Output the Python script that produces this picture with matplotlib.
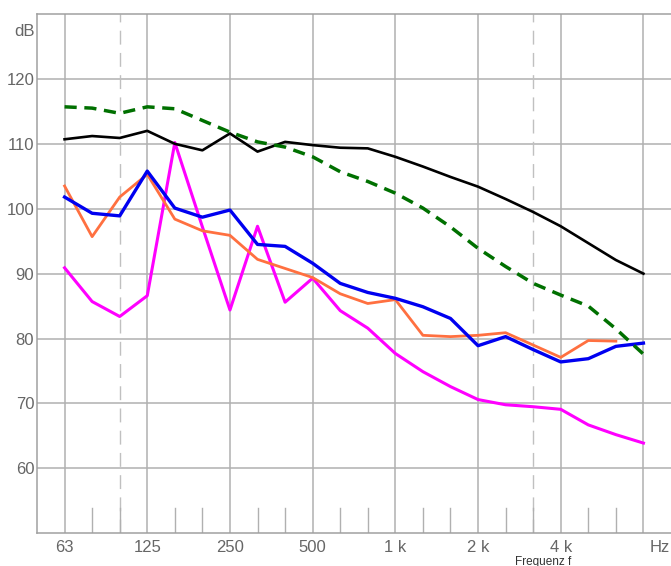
import matplotlib
matplotlib.use("Agg")
import matplotlib.pyplot as plt
import numpy as np

plt.rcParams['font.family'] = ['Liberation Sans', 'DejaVu Sans']

# third-octave bands 63 Hz .. 8 kHz
bands = ["63", "80", "100", "125", "160", "200", "250", "315", "400", "500", "630", "800",
         "1k", "1.25k", "1.6k", "2k", "2.5k", "3.15k", "4k", "5k", "6.3k", "8k"]
octave_labels = {"63": "63", "125": "125", "250": "250", "500": "500",
                 "1k": "1 k", "2k": "2 k", "4k": "4 k"}
dashed_bands = ["100", "3.15k"]

green = [115.7, 115.5, 114.7, 115.7, 115.4, 113.6, 111.8, 110.3, 109.5, 108.0, 105.7, 104.2,
         102.4, 100.1, 97.2, 93.9, 91.1, 88.5, 86.7, 85.0, 81.5, 77.6]
black = [110.7, 111.2, 110.9, 112.0, 110.0, 109.0, 111.6, 108.8, 110.3, 109.8, 109.4, 109.3,
         108.0, 106.5, 104.9, 103.4, 101.5, 99.5, 97.3, 94.7, 92.1, 90.0]
blue = [101.8, 99.3, 98.9, 105.8, 100.1, 98.7, 99.8, 94.5, 94.2, 91.6, 88.5, 87.1,
        86.2, 84.9, 83.1, 78.9, 80.3, 78.3, 76.4, 76.9, 78.8, 79.3]
orange = [103.5, 95.7, 101.8, 105.3, 98.4, 96.6, 95.9, 92.2, 90.8, 89.4, 86.9, 85.4,
          86.0, 80.5, 80.3, 80.5, 80.9, 79.0, 77.1, 79.7, 79.6, np.nan]
magenta = [90.9, 85.7, 83.4, 86.6, 110.2, 97.2, 84.4, 97.3, 85.6, 89.3, 84.3, 81.6,
           77.7, 74.9, 72.6, 70.6, 69.8, 69.5, 69.1, 66.7, 65.2, 63.9]

yticks = [60, 70, 80, 90, 100, 110, 120]

x = np.arange(len(bands))

fig = plt.figure(figsize=(6.71, 5.66), dpi=100)
ax = fig.add_axes([37/671, 1-533.3/566, 1-37/671, (533.3-14)/566])
ax.set_xlim(-1, 22)
ax.set_ylim(50, 130)

gridc = '#b0b0b0'
# horizontal grid
for yv in yticks:
    ax.axhline(yv, color=gridc, lw=1.1, zorder=1)
# vertical lines
for i, b in enumerate(bands):
    if b in octave_labels or b == "8k":
        ax.axvline(i, color=gridc, lw=1.1, zorder=1)
    elif b in dashed_bands:
        ax.axvline(i, color='#c0c0c0', lw=1.0, ls=(0, (10, 6)), zorder=1)
        ax.plot([i, i], [50, 53.9], color=gridc, lw=1.0, zorder=1)
    else:
        ax.plot([i, i], [50, 53.9], color=gridc, lw=1.0, zorder=1)

ax.plot(x, magenta, color='#ff00ff', lw=2.2, zorder=3)
ax.plot(x, orange, color='#ff7040', lw=2.0, zorder=3)
ax.plot(x, blue, color='#0000f0', lw=2.4, zorder=4)
ax.plot(x, black, color='#000000', lw=1.9, zorder=4)
ax.plot(x, green, color='#007000', lw=2.5, ls=(0, (3.5, 2.2)), zorder=5)

ax.spines['right'].set_visible(False)
for s in ['left', 'bottom', 'top']:
    ax.spines[s].set_color('#a0a0a0')
    ax.spines[s].set_linewidth(1.1)

ax.set_yticks(yticks)
ax.set_yticklabels([str(v) for v in yticks])
oct_idx = [bands.index(b) for b in octave_labels]
ax.set_xticks(oct_idx)
ax.set_xticklabels([octave_labels[bands[i]] for i in oct_idx])
ax.tick_params(axis='both', length=0, labelsize=12, colors='#666666')
ax.tick_params(axis='y', pad=2)
ax.tick_params(axis='x', pad=5)

fig.text(35/671, 1-31/566, "dB", ha='right', va='center', fontsize=12, color='#666666')
fig.text(660/671, 1-547/566, "Hz", ha='center', va='center', fontsize=12, color='#666666')
fig.text(543/671, 1-561.5/566, "Frequenz f", ha='center', va='center', fontsize=8.5, color='#333333')

fig.savefig("out.png", dpi=100)
